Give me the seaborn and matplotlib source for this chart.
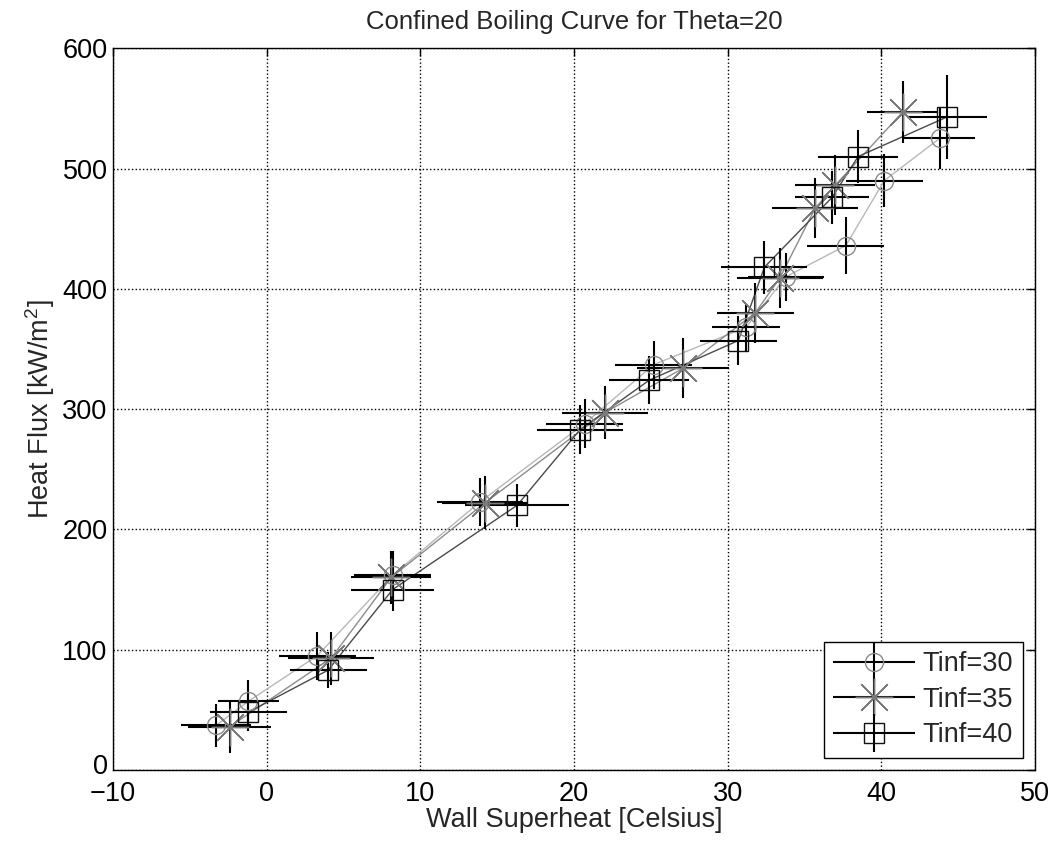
import matplotlib
matplotlib.use("Agg")
import matplotlib.pyplot as plt
import matplotlib.transforms as mtransforms
from matplotlib.legend_handler import HandlerErrorbar
import seaborn as sns
import pandas as pd
import numpy as np

# ---- data ----
series_labels = ["Tinf=30", "Tinf=35", "Tinf=40"]

t30_x = [-3.3, -1.2, 3.3, 8.2, 13.9, 20.7, 25.2, 31.2, 33.8, 37.7, 40.2, 43.8]
t30_y = [37, 57, 95, 162, 223, 288, 337, 368, 410, 436, 490, 525]
t30_xerr = [2.3, 2.0, 2.5, 2.5, 2.8, 2.5, 2.5, 2.2, 2.5, 2.5, 2.5, 2.3]
t30_yerr = [18, 18, 20, 20, 20, 20, 20, 20, 20, 24, 22, 25]

t35_x = [-2.4, 4.2, 8.1, 14.2, 22.0, 27.1, 31.8, 33.4, 35.7, 37.0, 41.4]
t35_y = [36, 93, 160, 222, 297, 334, 380, 409, 467, 486, 547]
t35_xerr = [2.7, 2.8, 2.6, 2.8, 2.8, 3.0, 2.5, 2.8, 2.8, 2.6, 2.3]
t35_yerr = [22, 22, 22, 22, 22, 25, 25, 25, 25, 25, 26]

t40_x = [-1.2, 4.0, 8.2, 16.3, 20.4, 24.9, 30.7, 32.4, 36.8, 38.5, 44.3]
t40_y = [48, 83, 150, 220, 283, 324, 357, 418, 476, 510, 543]
t40_xerr = [2.5, 2.5, 2.7, 3.4, 2.8, 2.6, 2.5, 2.8, 2.4, 2.6, 2.6]
t40_yerr = [16, 15, 18, 18, 20, 20, 20, 22, 22, 22, 35]

x_ticks = [-10, 0, 10, 20, 30, 40, 50]
y_ticks = [0, 100, 200, 300, 400, 500, 600]

sns.set_theme(style="white")
plt.rcParams['font.family'] = ['Liberation Sans', 'DejaVu Sans']
plt.rcParams['mathtext.fontset'] = 'custom'
plt.rcParams['mathtext.rm'] = 'Liberation Sans'

FS = 19.5

fig = plt.figure(figsize=(10.57, 8.47), dpi=100)
ax = fig.add_axes([0.107, 0.091, 0.872, 0.852])

styles = [
    dict(marker='o', ms=13, line='#b8b8b8', mec='#8a8a8a'),
    dict(marker=(8, 2, 0), ms=27, line='#8c8c8c', mec='#7a7a7a'),
    dict(marker='s', ms=14, line='#4a4a4a', mec='#111111'),
]
datasets = [
    (t30_x, t30_y, t30_xerr, t30_yerr),
    (t35_x, t35_y, t35_xerr, t35_yerr),
    (t40_x, t40_y, t40_xerr, t40_yerr),
]

for lab, st, (xs, ys, xe, ye) in zip(series_labels, styles, datasets):
    df = pd.DataFrame({"x": xs, "y": ys})
    sns.lineplot(data=df, x="x", y="y", sort=False, estimator=None, ax=ax,
                 color=st['line'], lw=1.0, legend=False, zorder=2)
    ax.errorbar(xs, ys, xerr=xe, yerr=ye, fmt='', ls='none',
                marker=st['marker'], ms=st['ms'], mfc='none',
                mec=st['mec'], mew=1.0, color=st['mec'],
                ecolor='black', elinewidth=1.5, capsize=0, zorder=4,
                label=lab)

ax.set_xlim(-10, 50)
ax.set_ylim(0, 600)
ax.set_xticks(x_ticks)
ax.set_yticks(y_ticks)
ax.set_xticklabels(["\u221210" if t < 0 else str(t) for t in x_ticks])
ax.tick_params(direction='in', top=True, right=True, length=6, width=1,
               labelsize=FS, colors='black')
ax.tick_params(axis='x', pad=8)
ax.tick_params(axis='y', pad=4)
ax.grid(True, linestyle=':', color='black', linewidth=1.0)
for sp in ax.spines.values():
    sp.set_color('black')
    sp.set_linewidth(1.0)

# nudge the "0" y tick label up slightly so it does not collide with "-10"
off = mtransforms.ScaledTranslation(0, 4 / 72, fig.dpi_scale_trans)
ylabels = ax.get_yticklabels()
ylabels[0].set_transform(ylabels[0].get_transform() + off)

ax.set_xlabel("Wall Superheat [Celsius]", fontsize=FS, labelpad=0)
ax.set_ylabel("Heat Flux [kW/m$^2$]", fontsize=FS, labelpad=4)
ax.set_title("Confined Boiling Curve for Theta=20", fontsize=18.5, pad=14)

leg = ax.legend(loc='lower right', fontsize=FS, frameon=True, fancybox=False,
                edgecolor='black', framealpha=1, handlelength=3.0,
                handletextpad=0.3, borderaxespad=0.45, labelspacing=0.35,
                borderpad=0.35,
                handler_map={matplotlib.container.ErrorbarContainer:
                             HandlerErrorbar(xerr_size=1.5, yerr_size=0.7)})
leg.get_frame().set_linewidth(1.0)

fig.savefig("out.png", dpi=100)
